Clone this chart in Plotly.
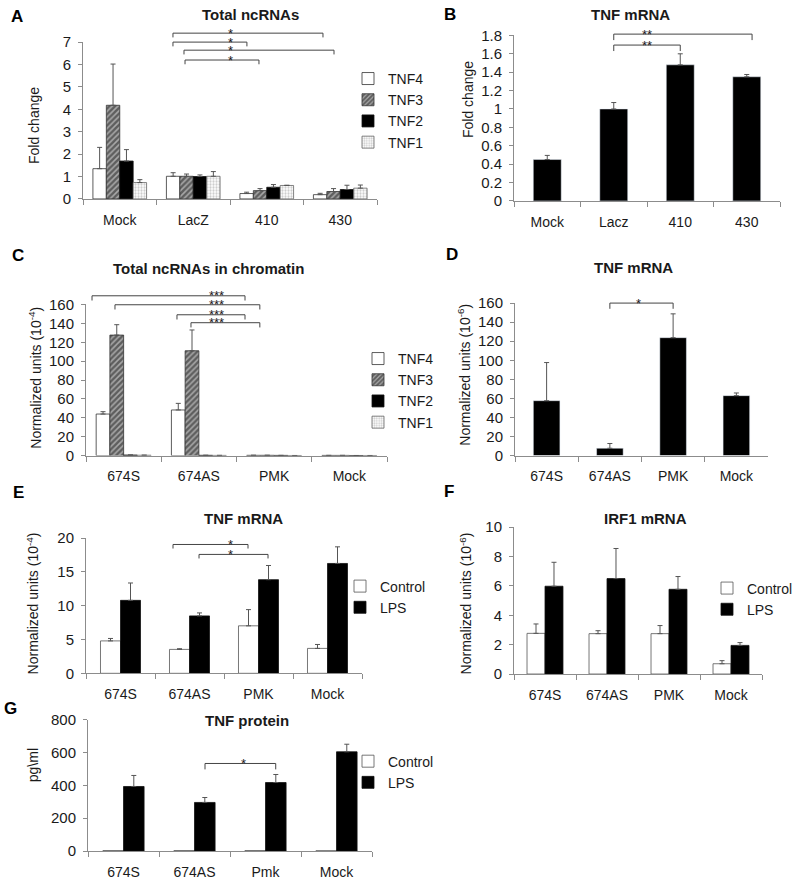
import plotly.graph_objects as go

W, H = 799, 885
FONT = "Arial, 'Liberation Sans', Helvetica, sans-serif"
TXT = "#1a1a1a"
AXC = "#8c8c8c"
ERRC = "#555555"
BRC = "#444444"

# ---------------- data ----------------
a_categories = ["Mock", "LacZ", "410", "430"]
a_series = ["TNF4", "TNF3", "TNF2", "TNF1"]
a_tnf4 = [1.35, 1.01, 0.24, 0.19]
a_tnf4_err = [0.95, 0.16, 0.06, 0.06]
a_tnf3 = [4.18, 1.01, 0.37, 0.33]
a_tnf3_err = [1.84, 0.10, 0.09, 0.13]
a_tnf2 = [1.69, 1.00, 0.52, 0.42]
a_tnf2_err = [0.51, 0.07, 0.12, 0.19]
a_tnf1 = [0.73, 1.01, 0.60, 0.48]
a_tnf1_err = [0.13, 0.21, 0.01, 0.14]

b_categories = ["Mock", "Lacz", "410", "430"]
b_values = [0.45, 1.00, 1.48, 1.35]
b_err = [0.045, 0.07, 0.12, 0.025]

c_categories = ["674S", "674AS", "PMK", "Mock"]
c_tnf4 = [44.0, 48.3, 0.3, 0.2]
c_tnf4_err = [2.5, 7.0, 0.0, 0.0]
c_tnf3 = [127.6, 111.0, 0.3, 0.2]
c_tnf3_err = [11.0, 22.0, 0.0, 0.0]
c_tnf2 = [0.6, 0.3, 0.2, 0.1]
c_tnf2_err = [0.0, 0.0, 0.0, 0.0]
c_tnf1 = [0.4, 0.2, 0.1, 0.1]
c_tnf1_err = [0.0, 0.0, 0.0, 0.0]

d_categories = ["674S", "674AS", "PMK", "Mock"]
d_values = [57.6, 7.7, 123.7, 62.9]
d_err = [40.0, 5.0, 25.0, 2.8]

e_categories = ["674S", "674AS", "PMK", "Mock"]
e_control = [4.80, 3.54, 7.03, 3.69]
e_control_err = [0.36, 0.10, 2.40, 0.58]
e_lps = [10.80, 8.50, 13.86, 16.26]
e_lps_err = [2.57, 0.44, 2.10, 2.46]

f_categories = ["674S", "674AS", "PMK", "Mock"]
f_control = [2.77, 2.75, 2.75, 0.70]
f_control_err = [0.64, 0.20, 0.55, 0.21]
f_lps = [5.98, 6.50, 5.77, 1.95]
f_lps_err = [1.63, 2.05, 0.87, 0.19]

g_categories = ["674S", "674AS", "Pmk", "Mock"]
g_control = [3, 3, 3, 2]
g_lps = [393, 296, 417, 604]
g_lps_err = [67, 30, 49, 46]

# significance brackets: (from, to, height in data units)
a_brackets = [(0.724, 2.765, 7.40), (0.724, 1.73, 7.0), (0.874, 2.915, 6.64), (0.888, 1.894, 6.2)]
b_brackets = [(1.0, 3.08, 1.814), (1.0, 2.0, 1.695)]
c_brackets = [(-0.42, 1.613, 169.2), (-0.115, 1.81, 159.7), (0.709, 1.613, 149.1), (0.895, 1.81, 140.7)]
d_brackets = [(1.0, 2.0, 160.0)]
e_brackets = [(0.761, 1.848, 19.07), (1.138, 2.138, 17.6)]
g_brackets = [(1.148, 2.144, 533.0)]

# ---------------- styles ----------------
tnf_styles = [
    dict(color="white", line=dict(color="#333", width=0.8)),
    dict(color="#9a9a9a", line=dict(color="#333", width=0.8),
         pattern=dict(shape="/", fgcolor="#141414", bgcolor="#a8a8a8", size=4, solidity=0.62)),
    dict(color="black", line=dict(color="#111", width=0.8)),
    dict(color="white", line=dict(color="#666", width=0.8),
         pattern=dict(shape=".", fgcolor="#999999", bgcolor="white", size=3, solidity=0.45)),
]
ctl_style = dict(color="white", line=dict(color="#555", width=0.8))
lps_style = dict(color="black", line=dict(color="#111", width=0.8))

# vertical placement helper (page rows as measured on the reference)
VS = 0.982


def Y(py):
    return py / VS - 8


def ax_id(k):
    return "" if k == 1 else str(k)


# panel layout: letter, title, ytitle, x px range, y px range(top,bottom), ymax, dtick, brackets, stars
panels = {
    1: dict(letter="A", lpos=(17, 15), title="Total ncRNAs", tpos=(250, 13), ytitle="Fold change", ypos=(34, 125),
            xpx=(83, 377), ypx=(41, 198), ymax=7, dtick=1, br=a_brackets, star="*", sx=1.51, drop=0.19),
    2: dict(letter="B", lpos=(450, 13), title="TNF mRNA", tpos=(630, 13), ytitle="Fold change", ypos=(468, 99),
            xpx=(514, 780), ypx=(34.3, 200), ymax=1.8, dtick=0.2, br=b_brackets, star="**", sx=1.5, drop=0.065),
    3: dict(letter="C", lpos=(18, 255), title="Total ncRNAs in chromatin", tpos=(208, 268),
            ytitle="Normalized units (10<sup>-4</sup>)", ypos=(35, 377),
            xpx=(86, 387), ypx=(303.7, 455), ymax=160, dtick=20, br=c_brackets, star="***", sx=1.23, drop=5),
    4: dict(letter="D", lpos=(452, 254), title="TNF mRNA", tpos=(633, 267),
            ytitle="Normalized units (10<sup>-6</sup>)", ypos=(464, 374),
            xpx=(515, 768), ypx=(302.3, 455), ymax=160, dtick=20, br=d_brackets, star="*", sx=1.46, drop=6),
    5: dict(letter="E", lpos=(18, 492), title="TNF mRNA", tpos=(243, 518),
            ytitle="Normalized units (10<sup>-4</sup>)", ypos=(33, 603),
            xpx=(86, 362), ypx=(537.7, 673), ymax=20, dtick=5, br=e_brackets, star="*", sx=1.587, drop=0.6),
    6: dict(letter="F", lpos=(449, 491), title="IRF1 mRNA", tpos=(645, 518),
            ytitle="Normalized units (10<sup>-6</sup>)", ypos=(466, 603),
            xpx=(514, 762), ypx=(526.7, 673.7), ymax=10, dtick=2, br=[], star="*", sx=0, drop=0),
    7: dict(letter="G", lpos=(10, 708), title="TNF protein", tpos=(247, 720), ytitle="pg\\ml", ypos=(33, 765),
            xpx=(88, 372), ypx=(719.3, 851), ymax=800, dtick=200, br=g_brackets, star="*", sx=1.687, drop=36),
}

fig = go.Figure()


def add_bars(k, cats, vals, errs, name, style, width, offset, legend, showlegend=True):
    fig.add_trace(go.Bar(
        x=cats, y=vals, name=name, marker=style, width=width, offset=offset,
        xaxis="x" + ax_id(k), yaxis="y" + ax_id(k),
        error_y=dict(type="data", array=errs, arrayminus=[0] * len(vals), symmetric=False,
                     color=ERRC, thickness=1, width=2.5) if errs is not None else None,
        legend=legend, showlegend=showlegend,
    ))


# panel A
gw4 = 0.73 / 4
for i, (nm, v, e) in enumerate(zip(a_series, [a_tnf4, a_tnf3, a_tnf2, a_tnf1],
                                   [a_tnf4_err, a_tnf3_err, a_tnf2_err, a_tnf1_err])):
    add_bars(1, a_categories, v, e, nm, tnf_styles[i], gw4, -0.365 + i * gw4, "legend")
# panel B
add_bars(2, b_categories, b_values, b_err, "TNF mRNA", dict(color="black"), 0.42, -0.21, "legend", False)
# panel C
for i, (nm, v, e) in enumerate(zip(a_series, [c_tnf4, c_tnf3, c_tnf2, c_tnf1],
                                   [c_tnf4_err, c_tnf3_err, c_tnf2_err, c_tnf1_err])):
    add_bars(3, c_categories, v, e, nm, tnf_styles[i], gw4, -0.365 + i * gw4, "legend2")
# panel D
add_bars(4, d_categories, d_values, d_err, "TNF mRNA", dict(color="black"), 0.42, -0.21, "legend", False)
# panel E
add_bars(5, e_categories, e_control, e_control_err, "Control", ctl_style, 0.29, -0.29, "legend3")
add_bars(5, e_categories, e_lps, e_lps_err, "LPS", lps_style, 0.29, 0.0, "legend3")
# panel F
add_bars(6, f_categories, f_control, f_control_err, "Control", ctl_style, 0.29, -0.29, "legend4")
add_bars(6, f_categories, f_lps, f_lps_err, "LPS", lps_style, 0.29, 0.0, "legend4")
# panel G
add_bars(7, g_categories, g_control, None, "Control", ctl_style, 0.29, -0.29, "legend5")
add_bars(7, g_categories, g_lps, g_lps_err, "LPS", lps_style, 0.29, 0.0, "legend5")

layout = dict(
    width=W, height=H, margin=dict(l=0, r=0, t=0, b=0),
    paper_bgcolor="white", plot_bgcolor="white",
    barmode="overlay", font=dict(family=FONT, size=14, color=TXT),
    shapes=[], annotations=[],
)

xtickfont = dict(family=FONT, size=14, color=TXT)
ytickfont = dict(family=FONT, size=15, color=TXT)
for k, p in panels.items():
    xd = [p["xpx"][0] / W, p["xpx"][1] / W]
    yd = [1 - Y(p["ypx"][1]) / H, 1 - Y(p["ypx"][0]) / H]
    layout["xaxis" + ax_id(k)] = dict(
        domain=xd, anchor="y" + ax_id(k), type="category", range=[-0.5, 3.5],
        showline=True, linecolor=AXC, linewidth=1, ticks="outside", tickson="boundaries",
        ticklen=5, tickcolor=AXC, tickfont=xtickfont, ticklabelstandoff=8, showgrid=False, fixedrange=True)
    layout["yaxis" + ax_id(k)] = dict(
        domain=yd, anchor="x" + ax_id(k), range=[0, p["ymax"]], dtick=p["dtick"], tick0=0,
        showline=True, linecolor=AXC, linewidth=1, ticks="outside", ticklen=4, tickcolor=AXC,
        tickfont=ytickfont, ticklabelstandoff=4, showgrid=False, zeroline=False, fixedrange=True)

    def ypaper(v, yd=yd, p=p):
        return yd[0] + v / p["ymax"] * (yd[1] - yd[0])

    xr = "x" + ax_id(k)
    for (x0, x1, yv) in p["br"]:
        yt = ypaper(yv)
        yb = ypaper(yv - p["drop"])
        for (xa, ya, xb, yb2) in [(x0, yb, x0, yt), (x0, yt, x1, yt), (x1, yt, x1, yb)]:
            layout["shapes"].append(dict(type="line", xref=xr, yref="paper", x0=xa, y0=ya, x1=xb, y1=yb2,
                                         line=dict(color=BRC, width=1)))
        layout["annotations"].append(dict(text=p["star"], xref=xr, yref="paper", x=p["sx"], y=yt,
                                          xanchor="center", yanchor="middle", showarrow=False,
                                          font=dict(family=FONT, size=13, color=TXT)))
    # panel letter
    layout["annotations"].append(dict(text="<b>%s</b>" % p["letter"], xref="paper", yref="paper",
                                      x=p["lpos"][0] / W, y=1 - Y(p["lpos"][1]) / H, xanchor="center",
                                      yanchor="middle", showarrow=False,
                                      font=dict(family=FONT, size=17, color="black")))
    # panel title
    layout["annotations"].append(dict(text="<b>%s</b>" % p["title"], xref="paper", yref="paper",
                                      x=p["tpos"][0] / W, y=1 - Y(p["tpos"][1]) / H, xanchor="center",
                                      yanchor="middle", showarrow=False,
                                      font=dict(family=FONT, size=15, color=TXT)))
    # y title
    layout["annotations"].append(dict(text=p["ytitle"], xref="paper", yref="paper",
                                      x=p["ypos"][0] / W, y=1 - Y(p["ypos"][1]) / H, xanchor="center",
                                      yanchor="middle", textangle=-90, showarrow=False,
                                      font=dict(family=FONT, size=14, color=TXT)))

legfont = dict(family=FONT, size=14, color=TXT)
leg_common = dict(bgcolor="rgba(0,0,0,0)", borderwidth=0, font=legfont, xanchor="left", yanchor="top",
                  tracegroupgap=0, itemclick=False, itemdoubleclick=False)
layout["legend"] = dict(x=348 / W, y=1 - 55 / H, **leg_common)
layout["legend2"] = dict(x=358 / W, y=1 - 340.5 / H, **leg_common)
layout["legend3"] = dict(x=340 / W, y=1 - 572.5 / H, **leg_common)
layout["legend4"] = dict(x=707 / W, y=1 - 574.5 / H, **leg_common)
layout["legend5"] = dict(x=348 / W, y=1 - 751 / H, **leg_common)

fig.update_layout(**layout)
fig.write_html(
    "out.html", config={"responsive": False, "displayModeBar": False},
    post_script=("document.documentElement.style.margin='0';document.documentElement.style.overflow='hidden';"
                 "document.body.style.margin='0';document.body.style.padding='0';"
                 "document.body.style.overflow='hidden';"
                 "var g=document.getElementById('{plot_id}');g.style.position='fixed';"
                 "g.style.left='0px';g.style.top='0px';"))
